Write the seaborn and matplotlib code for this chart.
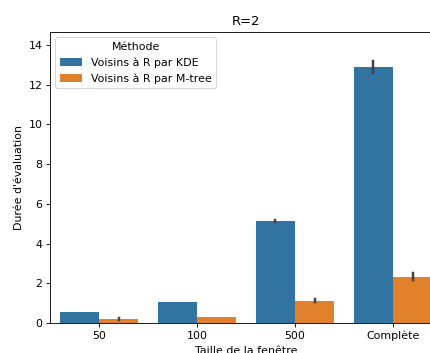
import matplotlib
matplotlib.use("Agg")
import matplotlib.pyplot as plt
import seaborn as sns
import pandas as pd

windows = ["50", "100", "500", "Complète"]
methods = ["Voisins à R par KDE", "Voisins à R par M-tree"]
# three repeated measurements per (window, method)
kde_runs = [[0.54, 0.55, 0.56], [1.06, 1.07, 1.08], [5.10, 5.15, 5.20], [12.57, 12.87, 13.17]]
mtree_runs = [[0.16, 0.20, 0.24], [0.29, 0.30, 0.31], [1.07, 1.13, 1.19], [2.14, 2.34, 2.54]]

rows = []
for w, runs in zip(windows, kde_runs):
    for v in runs:
        rows.append({"Taille de la fenêtre": w, "Méthode": methods[0], "Durée d'évaluation": v})
for w, runs in zip(windows, mtree_runs):
    for v in runs:
        rows.append({"Taille de la fenêtre": w, "Méthode": methods[1], "Durée d'évaluation": v})
df = pd.DataFrame(rows)

DPI = 79
fig = plt.figure(figsize=(430/DPI, 353/DPI), dpi=DPI)
ax = fig.add_axes([50/430, 30/353, 392/430, 291/353])
sns.barplot(data=df, x="Taille de la fenêtre", y="Durée d'évaluation", hue="Méthode",
            order=windows, hue_order=methods, errorbar="sd", ax=ax)
ax.set_ylim(0, 14.65)
ax.set_title("R=2")
ax.legend(title="Méthode", loc="upper left")
fig.savefig("out.png", dpi=DPI)
